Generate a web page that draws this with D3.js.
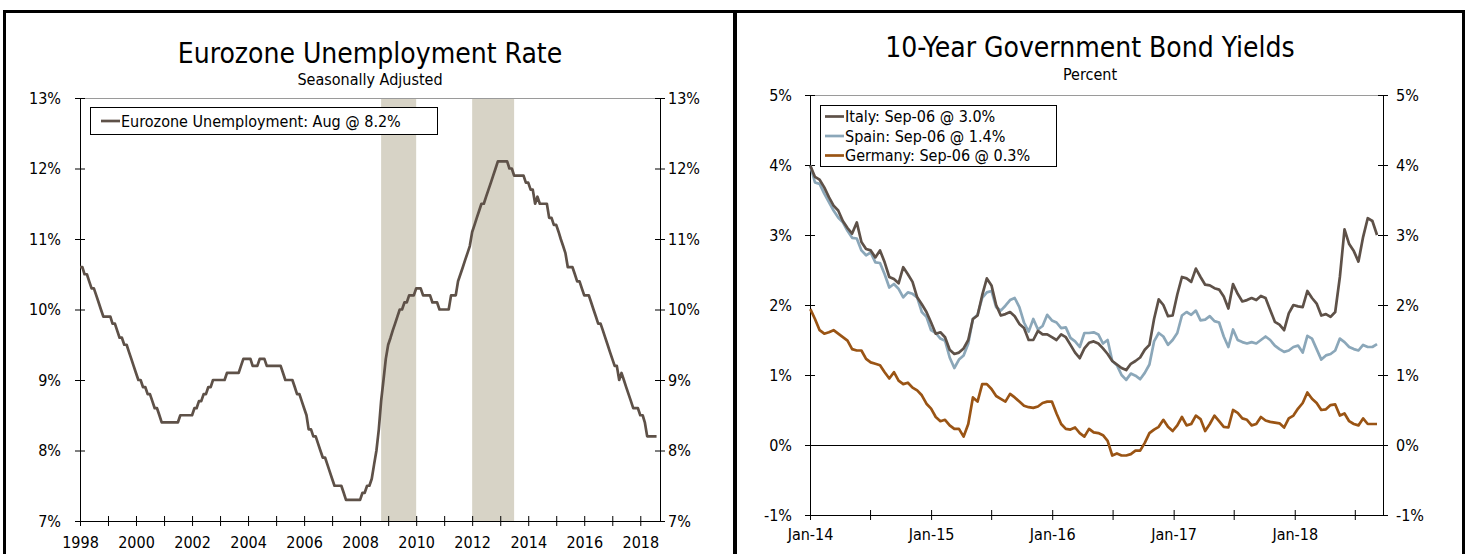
<!DOCTYPE html>
<html>
<head>
<meta charset="utf-8">
<script src="https://cdn.jsdelivr.net/npm/d3@7"></script>
<style>
  body { margin: 0; background: #fff; }
  svg { display: block; font-family: "DejaVu Sans Condensed", "DejaVu Sans", sans-serif; }
</style>
</head>
<body>
<script>
// ---- left chart data: monthly, Jan 1998 .. Aug 2018 ----
const unempStart = new Date(1998, 0, 1);
const unemployment = [
  10.6, 10.6, 10.5, 10.5, 10.4, 10.3, 10.3, 10.2, 10.1, 10.0, 9.9, 9.9,
  9.9, 9.9, 9.8, 9.8, 9.7, 9.6, 9.6, 9.5, 9.5, 9.4, 9.3, 9.2,
  9.1, 9.0, 9.0, 8.9, 8.9, 8.8, 8.8, 8.7, 8.6, 8.6, 8.5, 8.4,
  8.4, 8.4, 8.4, 8.4, 8.4, 8.4, 8.4, 8.5, 8.5, 8.5, 8.5, 8.5,
  8.5, 8.6, 8.6, 8.7, 8.7, 8.8, 8.8, 8.9, 8.9, 9.0, 9.0, 9.0,
  9.0, 9.0, 9.0, 9.1, 9.1, 9.1, 9.1, 9.1, 9.1, 9.2, 9.3, 9.3,
  9.3, 9.3, 9.2, 9.2, 9.2, 9.3, 9.3, 9.3, 9.2, 9.2, 9.2, 9.2,
  9.2, 9.2, 9.2, 9.1, 9.0, 9.0, 9.0, 9.0, 8.9, 8.8, 8.8, 8.7,
  8.6, 8.5, 8.3, 8.3, 8.2, 8.2, 8.1, 8.0, 7.9, 7.9, 7.8, 7.7,
  7.6, 7.5, 7.5, 7.5, 7.5, 7.4, 7.3, 7.3, 7.3, 7.3, 7.3, 7.3,
  7.3, 7.4, 7.4, 7.5, 7.5, 7.6, 7.8, 8.0, 8.3, 8.7, 9.0, 9.3,
  9.5, 9.6, 9.7, 9.8, 9.9, 10.0, 10.0, 10.1, 10.1, 10.2, 10.2, 10.2,
  10.3, 10.3, 10.3, 10.2, 10.2, 10.2, 10.2, 10.1, 10.1, 10.1, 10.0, 10.0,
  10.0, 10.0, 10.0, 10.2, 10.2, 10.2, 10.4, 10.5, 10.6, 10.7, 10.8, 10.9,
  11.1, 11.2, 11.3, 11.4, 11.5, 11.5, 11.6, 11.7, 11.8, 11.9, 12.0, 12.1,
  12.1, 12.1, 12.1, 12.1, 12.0, 12.0, 11.9, 11.9, 11.9, 11.9, 11.9, 11.8,
  11.8, 11.7, 11.7, 11.5, 11.6, 11.5, 11.5, 11.5, 11.5, 11.3, 11.3, 11.2,
  11.2, 11.1, 11.0, 10.9, 10.8, 10.6, 10.6, 10.6, 10.5, 10.4, 10.4, 10.3,
  10.2, 10.2, 10.2, 10.1, 10.0, 9.9, 9.8, 9.8, 9.7, 9.6, 9.5, 9.4,
  9.3, 9.2, 9.2, 9.0, 9.1, 9.0, 8.9, 8.8, 8.7, 8.6, 8.6, 8.6,
  8.5, 8.5, 8.4, 8.2, 8.2, 8.2, 8.2, 8.2
];
const recessions = [
  [new Date(2008, 9, 1), new Date(2010, 0, 1)],
  [new Date(2012, 0, 1), new Date(2013, 6, 1)]
];
const unempTicks = [7, 8, 9, 10, 11, 12, 13];

// ---- right chart data: every 14 days from 2 Jan 2014 to 6 Sep 2018 ----
const bondStart = new Date(2014, 0, 2);
const bondStepDays = 14;
const italy = [
  3.99, 3.83, 3.79, 3.68, 3.54, 3.42, 3.35, 3.2, 3.1, 3.02,
  3.18, 2.9, 2.8, 2.78, 2.68, 2.78, 2.61, 2.4, 2.37, 2.31,
  2.54, 2.44, 2.33, 2.11, 2.01, 1.9, 1.75, 1.59, 1.61, 1.54,
  1.36, 1.3, 1.32, 1.38, 1.5, 1.8, 1.85, 2.14, 2.38, 2.28,
  2.0, 1.85, 1.87, 1.9, 1.84, 1.73, 1.67, 1.5, 1.5, 1.63,
  1.58, 1.58, 1.54, 1.5, 1.58, 1.54, 1.43, 1.32, 1.24, 1.38,
  1.46, 1.48, 1.45, 1.38, 1.3, 1.2, 1.15, 1.1, 1.07, 1.16,
  1.2, 1.25, 1.36, 1.43, 1.8, 2.08, 2.0, 1.84, 1.85, 2.15,
  2.4, 2.38, 2.33, 2.52, 2.4, 2.29, 2.28, 2.24, 2.22, 2.12,
  1.95, 2.3, 2.16, 2.05, 2.07, 2.1, 2.07, 2.13, 2.1, 1.93,
  1.76, 1.72, 1.64, 1.88, 2.0, 1.98, 1.97, 2.2, 2.1, 2.02,
  1.85, 1.87, 1.83, 1.9, 2.4, 3.08, 2.87, 2.77, 2.62, 2.97,
  3.24, 3.2, 3.0
];
const spain = [
  3.99, 3.75, 3.73, 3.59, 3.47, 3.35, 3.25, 3.18, 3.06, 2.96,
  2.95, 2.78, 2.71, 2.75, 2.61, 2.6, 2.44, 2.25, 2.3, 2.23,
  2.11, 2.18, 2.16, 2.11, 1.9, 1.83, 1.64, 1.6, 1.52, 1.49,
  1.25, 1.1, 1.22, 1.28, 1.45, 1.8, 1.86, 2.1, 2.18, 2.2,
  1.97, 1.92, 1.99, 2.07, 2.1, 1.97, 1.75, 1.62, 1.8, 1.65,
  1.7, 1.86, 1.78, 1.75, 1.67, 1.68, 1.53, 1.48, 1.4, 1.6,
  1.6, 1.61, 1.58, 1.45, 1.5, 1.2, 1.14, 1.0, 0.93, 1.02,
  0.99, 0.94, 1.03, 1.15, 1.48, 1.6, 1.55, 1.43, 1.5, 1.6,
  1.85, 1.9, 1.86, 1.92, 1.78, 1.79, 1.84, 1.77, 1.75, 1.55,
  1.4, 1.65, 1.5, 1.47, 1.45, 1.47, 1.45, 1.5, 1.55, 1.5,
  1.42, 1.37, 1.33, 1.35, 1.4, 1.42, 1.32, 1.56, 1.52, 1.37,
  1.22, 1.28, 1.3, 1.35, 1.52, 1.47, 1.4, 1.37, 1.35, 1.43,
  1.4, 1.4, 1.44
];
const germany = [
  1.94, 1.8, 1.64, 1.59, 1.61, 1.64, 1.59, 1.54, 1.49, 1.37,
  1.35, 1.35, 1.23, 1.18, 1.16, 1.14, 1.04, 0.95, 1.04, 0.92,
  0.87, 0.89, 0.82, 0.78, 0.71, 0.59, 0.52, 0.4, 0.34, 0.36,
  0.28, 0.23, 0.23, 0.12, 0.3, 0.68, 0.62, 0.87, 0.87, 0.8,
  0.7, 0.66, 0.62, 0.73, 0.68, 0.62, 0.56, 0.54, 0.53, 0.55,
  0.6, 0.62, 0.62, 0.45, 0.3, 0.23, 0.22, 0.25, 0.17, 0.12,
  0.23, 0.18, 0.17, 0.14, 0.06, -0.15, -0.12, -0.15, -0.15, -0.13,
  -0.08, -0.08, 0.03, 0.17, 0.22, 0.26, 0.36, 0.26, 0.2, 0.28,
  0.4, 0.28, 0.3, 0.42, 0.37, 0.2, 0.3, 0.42, 0.34, 0.26,
  0.25, 0.5, 0.46, 0.38, 0.36, 0.28, 0.3, 0.4, 0.35, 0.33,
  0.32, 0.31, 0.25, 0.38, 0.42, 0.52, 0.6, 0.75, 0.66, 0.6,
  0.5, 0.51, 0.57, 0.58, 0.42, 0.45, 0.34, 0.3, 0.28, 0.38,
  0.3, 0.3, 0.3
];
const bondSeries = [
  { name: "Italy: Sep-06 @ 3.0%", values: italy, color: "#5e5148" },
  { name: "Spain: Sep-06 @ 1.4%", values: spain, color: "#8ba7b9" },
  { name: "Germany: Sep-06 @ 0.3%", values: germany, color: "#9a5414" }
];
const bondTicks = [-1, 0, 1, 2, 3, 4, 5];

const width = 1467, height = 554;
const fontSize = 16;

const svg = d3.select("body").append("svg")
  .attr("width", width)
  .attr("height", height);

// panel frames
svg.append("path")
  .attr("d", `M4.5,${height + 5} V11.5 H1463.5 V${height + 5}`)
  .attr("fill", "none").attr("stroke", "#000").attr("stroke-width", 3);
svg.append("line")
  .attr("x1", 735).attr("x2", 735).attr("y1", 10).attr("y2", height + 5)
  .attr("stroke", "#000").attr("stroke-width", 4);

// make ticks cross the axis line
function crossTicks(g, attr, len) {
  g.selectAll(".tick line").attr(attr, len);
}

function styleAxis(g) {
  g.selectAll("text").attr("fill", "#000").style("font-size", fontSize + "px");
  g.selectAll("line, path").attr("stroke", "#000");
  g.attr("font-family", null).attr("font-size", null);
}

// ================= left chart =================
const L = { left: 80, right: 660, top: 98, bottom: 521 };

const unemp = unemployment.map((v, i) => ({
  date: d3.timeMonth.offset(unempStart, i), v
}));

const xL = d3.scaleTime()
  .domain([new Date(1998, 0, 1), new Date(2018, 8, 15)])
  .range([L.left, L.right]);
const yL = d3.scaleLinear().domain([7, 13]).range([L.bottom, L.top]);

const left = svg.append("g");

left.selectAll("rect.rec")
  .data(recessions)
  .join("rect")
  .attr("class", "rec")
  .attr("x", d => xL(d[0]))
  .attr("width", d => xL(d[1]) - xL(d[0]))
  .attr("y", L.top)
  .attr("height", L.bottom - L.top)
  .attr("fill", "#d7d3c6");

left.append("line")
  .attr("x1", L.left).attr("x2", L.right).attr("y1", L.top + 0.5).attr("y2", L.top + 0.5)
  .attr("stroke", "#9a9a9a");

left.append("g")
  .attr("transform", `translate(${L.left},0)`)
  .call(d3.axisLeft(yL).tickValues(unempTicks).tickFormat(d => d + "%")
    .tickSizeInner(5).tickSizeOuter(0).tickPadding(14))
  .call(g => crossTicks(g, "x1", 5))
  .call(styleAxis);

left.append("g")
  .attr("transform", `translate(${L.right},0)`)
  .call(d3.axisRight(yL).tickValues(unempTicks).tickFormat(d => d + "%")
    .tickSizeInner(5).tickSizeOuter(0).tickPadding(3))
  .call(g => crossTicks(g, "x1", -5))
  .call(styleAxis);

left.append("g")
  .attr("transform", `translate(0,${L.bottom})`)
  .call(d3.axisBottom(xL).ticks(d3.timeYear.every(1))
    .tickFormat(d => d.getFullYear() % 2 === 0 ? d.getFullYear() : "")
    .tickSizeInner(5).tickSizeOuter(0).tickPadding(11))
  .call(g => crossTicks(g, "y1", -5))
  .call(styleAxis);

left.append("path")
  .datum(unemp)
  .attr("fill", "none")
  .attr("stroke", "#5e5148")
  .attr("stroke-width", 2.7)
  .attr("stroke-linejoin", "round")
  .attr("d", d3.line().x(d => xL(d.date)).y(d => yL(d.v)));

left.append("text")
  .attr("x", 370).attr("y", 63)
  .attr("text-anchor", "middle")
  .style("font-size", "28px")
  .text("Eurozone Unemployment Rate");
left.append("text")
  .attr("x", 370).attr("y", 85)
  .attr("text-anchor", "middle")
  .style("font-size", "16px")
  .text("Seasonally Adjusted");

// legend
const legL = left.append("g");
legL.append("rect")
  .attr("x", 90.5).attr("y", 107.5).attr("width", 347).attr("height", 27)
  .attr("fill", "#fff").attr("stroke", "#000");
legL.append("line")
  .attr("x1", 101).attr("x2", 120).attr("y1", 121).attr("y2", 121)
  .attr("stroke", "#5e5148").attr("stroke-width", 2.7);
legL.append("text")
  .attr("x", 121).attr("y", 121).attr("dy", "0.35em")
  .style("font-size", fontSize + "px")
  .text("Eurozone Unemployment: Aug @ 8.2%");

// ================= right chart =================
const R = { left: 810, right: 1383, top: 95, bottom: 515 };

const xR = d3.scaleTime()
  .domain([new Date(2014, 0, 1), new Date(2018, 8, 24)])
  .range([R.left, R.right]);
const yR = d3.scaleLinear().domain([-1, 5]).range([R.bottom, R.top]);

const right = svg.append("g");

right.append("line")
  .attr("x1", R.left).attr("x2", R.right).attr("y1", R.top + 0.5).attr("y2", R.top + 0.5)
  .attr("stroke", "#9a9a9a");

right.append("line")
  .attr("x1", R.left).attr("x2", R.right)
  .attr("y1", yR(0) + 0.5).attr("y2", yR(0) + 0.5)
  .attr("stroke", "#000");

right.append("g")
  .attr("transform", `translate(${R.left},0)`)
  .call(d3.axisLeft(yR).tickValues(bondTicks).tickFormat(d => d + "%")
    .tickSizeInner(5).tickSizeOuter(0).tickPadding(13))
  .call(g => crossTicks(g, "x1", 5))
  .call(styleAxis);

right.append("g")
  .attr("transform", `translate(${R.right},0)`)
  .call(d3.axisRight(yR).tickValues(bondTicks).tickFormat(d => d + "%")
    .tickSizeInner(5).tickSizeOuter(0).tickPadding(8))
  .call(g => crossTicks(g, "x1", -5))
  .call(styleAxis);

right.append("g")
  .attr("transform", `translate(0,${R.bottom})`)
  .call(d3.axisBottom(xR).ticks(d3.timeMonth.every(6))
    .tickFormat(d => d.getMonth() === 0 ? d3.timeFormat("%b-%y")(d) : "")
    .tickSizeInner(5).tickSizeOuter(0).tickPadding(9))
  .call(g => crossTicks(g, "y1", -5))
  .call(styleAxis);

const bondLine = d3.line()
  .x((d, i) => xR(d3.timeDay.offset(bondStart, i * bondStepDays)))
  .y(d => yR(d));

right.selectAll("path.series")
  .data(bondSeries.slice().reverse())
  .join("path")
  .attr("class", "series")
  .attr("fill", "none")
  .attr("stroke", d => d.color)
  .attr("stroke-width", 2.7)
  .attr("stroke-linejoin", "round")
  .attr("d", d => bondLine(d.values));

right.append("text")
  .attr("x", 1090).attr("y", 57)
  .attr("text-anchor", "middle")
  .style("font-size", "28px")
  .text("10-Year Government Bond Yields");
right.append("text")
  .attr("x", 1090).attr("y", 80)
  .attr("text-anchor", "middle")
  .style("font-size", "16px")
  .text("Percent");

const legR = right.append("g");
legR.append("rect")
  .attr("x", 820.5).attr("y", 105.5).attr("width", 236).attr("height", 61)
  .attr("fill", "#fff").attr("stroke", "#000");
const legItems = legR.selectAll("g.item")
  .data(bondSeries)
  .join("g")
  .attr("class", "item")
  .attr("transform", (d, i) => `translate(0,${116.5 + i * 19.5})`);
legItems.append("line")
  .attr("x1", 825).attr("x2", 844).attr("y1", 0).attr("y2", 0)
  .attr("stroke", d => d.color).attr("stroke-width", 2.7);
legItems.append("text")
  .attr("x", 845).attr("dy", "0.35em")
  .style("font-size", fontSize + "px")
  .text(d => d.name);
</script>
</body>
</html>
